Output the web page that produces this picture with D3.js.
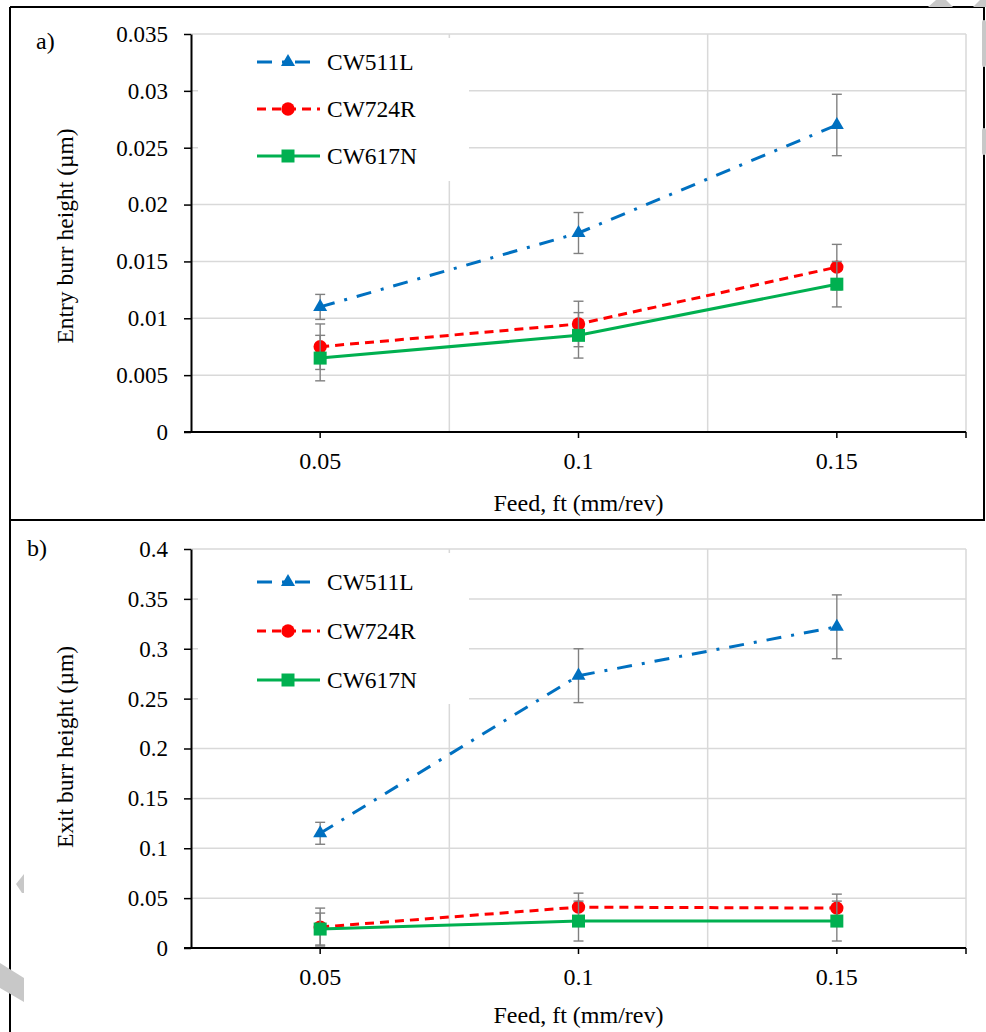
<!DOCTYPE html>
<html>
<head>
<meta charset="utf-8">
<script src="https://cdn.jsdelivr.net/npm/d3@7"></script>
<style>
  body { margin: 0; background: #fff; }
  svg { display: block; }
  text { font-family: "Liberation Serif", "Times New Roman", serif; fill: #000; }
</style>
</head>
<body>
<div id="chart"></div>
<script>
// categories and series values
var feeds = ["0.05", "0.1", "0.15"];
var seriesNames = ["CW511L", "CW724R", "CW617N"];

// a) entry burr height
var entryCW511L = [0.011, 0.0175, 0.027];
var entryErrCW511L = [0.0011, 0.0018, 0.0027];
var entryCW724R = [0.0075, 0.0095, 0.0145];
var entryErrCW724R = [0.002, 0.002, 0.002];
var entryCW617N = [0.0065, 0.0085, 0.013];
var entryErrCW617N = [0.002, 0.002, 0.002];
var entryTicks = [0, 0.005, 0.01, 0.015, 0.02, 0.025, 0.03, 0.035];

// b) exit burr height
var exitCW511L = [0.115, 0.273, 0.322];
var exitErrCW511L = [0.011, 0.027, 0.032];
var exitCW724R = [0.021, 0.041, 0.04];
var exitErrCW724R = [0.019, 0.014, 0.014];
var exitCW617N = [0.019, 0.027, 0.027];
var exitErrCW617N = [0.016, 0.02, 0.02];
var exitTicks = [0, 0.05, 0.1, 0.15, 0.2, 0.25, 0.3, 0.35, 0.4];

// line look of each series
var styles = [
    { color: "#0070C0", dash: "15,10,3,10", symbol: d3.symbolTriangle, size: 85 },
    { color: "#FF0000", dash: "9,6", symbol: d3.symbolCircle, size: 140 },
    { color: "#00B050", dash: null, symbol: d3.symbolSquare, size: 169 }
];

var W = 986, H = 1032;
var svg = d3.select("#chart").append("svg")
    .attr("width", W)
    .attr("height", H);

// outer frame of the figure
var frame = svg.append("g").attr("stroke", "#000").attr("stroke-width", 2);
frame.append("line").attr("x1", 10).attr("y1", 7).attr("x2", 985).attr("y2", 7);
frame.append("line").attr("x1", 10).attr("y1", 7).attr("x2", 10).attr("y2", H);
frame.append("line").attr("x1", 10).attr("y1", 520).attr("x2", 985).attr("y2", 520);
frame.append("line").attr("x1", 984).attr("y1", 7).attr("x2", 984).attr("y2", 520);

function fmt(d) { return String(+d.toFixed(4)); }

function drawPanel(cfg) {
    var g = svg.append("g");
    var left = 191, right = 966;

    var x = d3.scaleBand().domain(feeds).range([left, right]);
    var y = d3.scaleLinear().domain([0, cfg.ticks[cfg.ticks.length - 1]])
        .range([cfg.bottom, cfg.top]);

    // horizontal gridlines
    g.append("g").selectAll("line")
        .data(cfg.ticks.filter(function (d) { return d > 0; }))
        .enter().append("line")
        .attr("x1", left).attr("x2", right)
        .attr("y1", function (d) { return y(d); })
        .attr("y2", function (d) { return y(d); })
        .attr("stroke", "#d9d9d9").attr("stroke-width", 1.5);

    // vertical gridlines between categories
    g.append("g").selectAll("line")
        .data(feeds.slice(1).concat(["end"]))
        .enter().append("line")
        .attr("x1", function (d) { return d === "end" ? right : x(d); })
        .attr("x2", function (d) { return d === "end" ? right : x(d); })
        .attr("y1", cfg.top).attr("y2", cfg.bottom)
        .attr("stroke", "#d9d9d9").attr("stroke-width", 1.5);

    // y axis
    var yAxis = g.append("g")
        .attr("transform", "translate(" + left + ",0)")
        .call(d3.axisLeft(y).tickValues(cfg.ticks).tickFormat(fmt)
            .tickSize(7).tickSizeOuter(0).tickPadding(16));
    yAxis.select(".domain").attr("stroke-width", 2);
    yAxis.selectAll(".tick line").attr("stroke-width", 1.5);
    yAxis.selectAll("text").style("font-size", "23px").attr("fill", "#000");

    // x axis
    var xAxis = g.append("g")
        .attr("transform", "translate(0," + cfg.bottom + ")")
        .call(d3.axisBottom(x).tickSize(6).tickSizeOuter(0).tickPadding(14));
    xAxis.select(".domain").remove();
    xAxis.selectAll(".tick line").attr("stroke-width", 1.5);
    xAxis.selectAll("text").style("font-size", "24px").attr("fill", "#000");
    xAxis.append("line")
        .attr("x1", left - 7).attr("x2", right)
        .attr("stroke", "#000").attr("stroke-width", 2);
    xAxis.append("line")
        .attr("x1", right).attr("x2", right).attr("y2", 6)
        .attr("stroke", "#000").attr("stroke-width", 1.5);

    // axis titles and panel letter
    g.append("text")
        .attr("x", (left + right) / 2).attr("y", cfg.xTitleY)
        .attr("text-anchor", "middle")
        .style("font-size", "24px")
        .text("Feed, ft (mm/rev)");
    g.append("text")
        .attr("transform", "translate(73," + cfg.titleY + ") rotate(-90)")
        .attr("text-anchor", "middle")
        .style("font-size", "23.5px")
        .text(cfg.yTitle);
    g.append("text")
        .attr("x", cfg.letterX).attr("y", cfg.letterY)
        .style("font-size", "24px")
        .text(cfg.letter);

    // series: line, error bars, markers
    cfg.series.forEach(function (vals, i) {
        var st = styles[i];
        var errs = cfg.errors[i];
        var pts = feeds.map(function (f, j) { return { f: f, v: vals[j], e: errs[j] }; });
        var cx = function (d) { return x(d.f) + x.bandwidth() / 2; };

        g.append("path")
            .datum(pts)
            .attr("fill", "none")
            .attr("stroke", st.color)
            .attr("stroke-width", 3)
            .attr("stroke-dasharray", st.dash)
            .attr("d", d3.line().x(cx).y(function (d) { return y(d.v); }));

        var eb = g.append("g").attr("stroke", "#808080").attr("stroke-width", 1.4);
        eb.selectAll(".bar").data(pts).enter().append("line")
            .attr("x1", cx).attr("x2", cx)
            .attr("y1", function (d) { return y(d.v - d.e); })
            .attr("y2", function (d) { return y(d.v + d.e); });
        [-1, 1].forEach(function (s) {
            eb.selectAll(".cap" + s).data(pts).enter().append("line")
                .attr("x1", function (d) { return cx(d) - 5; })
                .attr("x2", function (d) { return cx(d) + 5; })
                .attr("y1", function (d) { return y(d.v + s * d.e); })
                .attr("y2", function (d) { return y(d.v + s * d.e); });
        });

        g.selectAll(".mk" + i).data(pts).enter().append("path")
            .attr("transform", function (d) { return "translate(" + cx(d) + "," + y(d.v) + ")"; })
            .attr("d", d3.symbol().type(st.symbol).size(st.size))
            .attr("fill", st.color);
    });

    // legend, white box over the grid
    var lg = g.append("g");
    lg.append("rect")
        .attr("x", 198).attr("y", cfg.legendTop)
        .attr("width", 271).attr("height", cfg.legendH)
        .attr("fill", "#fff");
    seriesNames.forEach(function (name, i) {
        var st = styles[i];
        var ly = cfg.legendRow0 + i * cfg.legendStep;
        lg.append("line")
            .attr("x1", 257).attr("x2", 320)
            .attr("y1", ly).attr("y2", ly)
            .attr("stroke", st.color).attr("stroke-width", 3)
            .attr("stroke-dasharray", st.dash);
        lg.append("path")
            .attr("transform", "translate(288," + ly + ")")
            .attr("d", d3.symbol().type(st.symbol).size(st.size))
            .attr("fill", st.color);
        lg.append("text")
            .attr("x", 327).attr("y", ly).attr("dy", "0.35em")
            .style("font-size", "23.5px")
            .text(name);
    });
}

drawPanel({
    top: 34, bottom: 432, ticks: entryTicks,
    series: [entryCW511L, entryCW724R, entryCW617N],
    errors: [entryErrCW511L, entryErrCW724R, entryErrCW617N],
    yTitle: "Entry burr height (\u00b5m)", titleY: 236, xTitleY: 511,
    letter: "a)", letterX: 36, letterY: 49,
    legendTop: 38, legendH: 143, legendRow0: 62, legendStep: 47
});

drawPanel({
    top: 549, bottom: 948, ticks: exitTicks,
    series: [exitCW511L, exitCW724R, exitCW617N],
    errors: [exitErrCW511L, exitErrCW724R, exitErrCW617N],
    yTitle: "Exit burr height (\u00b5m)", titleY: 747, xTitleY: 1023,
    letter: "b)", letterX: 27, letterY: 556,
    legendTop: 553, legendH: 151, legendRow0: 582, legendStep: 49
});

// grey watermark fragments at the page edges
var wm = svg.append("g").attr("fill", "#c8c8c8");
wm.append("polygon").attr("points", "928,7 936,0 946,0 953,7");
wm.append("polygon").attr("points", "973,7 980,0 986,0 986,7");
wm.append("rect").attr("x", 982).attr("y", 20).attr("width", 4).attr("height", 47).attr("rx", 2);
wm.append("rect").attr("x", 982).attr("y", 128).attr("width", 4).attr("height", 27).attr("rx", 2);
wm.append("polygon").attr("points", "24,874 16,884 22,893 24,893");
wm.append("polygon").attr("points", "0,963 24,978 24,1002 0,988");
</script>
</body>
</html>
